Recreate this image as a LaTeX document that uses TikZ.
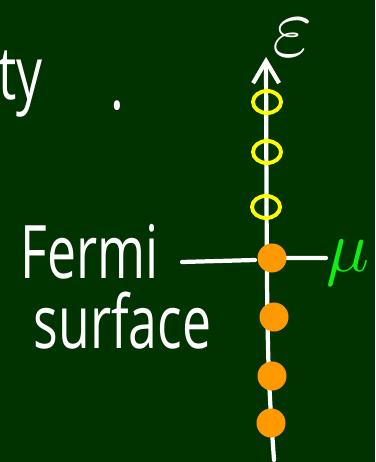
\documentclass[tikz,border=0pt]{standalone}
\usepackage{fontspec}
\newfontfamily\chalkfont[FakeStretch=0.7]{Open Sans}
\usetikzlibrary{arrows.meta,shapes.geometric}
\definecolor{board}{HTML}{003300}
\definecolor{chalkyellow}{HTML}{FFFF00}
\definecolor{chalkorange}{HTML}{FF9900}
\definecolor{chalkgreen}{HTML}{11EE11}

\begin{document}
\begin{tikzpicture}[
    x=0.01cm, y=-0.01cm,
    chalk/.style={white, line width=1.2pt, line cap=round},
    empty/.style={ellipse, draw=chalkyellow, line width=1.1pt, minimum width=0.28cm,
                  minimum height=0.22cm, inner sep=0pt},
    filled/.style={circle, fill=chalkorange, minimum size=0.29cm, inner sep=0pt},
    txt/.style={text=white, font=\chalkfont\fontsize{21}{21}\selectfont, inner sep=0pt},
    sym/.style={inner sep=0pt, font=\fontsize{22}{22}\selectfont}
]
\fill[board] (0,0) rectangle (375,462);
\useasboundingbox (0,0) rectangle (375,462);

% --- energy axis ---
\coordinate (bot) at (274,460);
\coordinate (top) at (266,57);
\draw[chalk, -{Straight Barb[length=0.22cm, width=0.26cm]}] (bot) .. controls (267,360) .. (top);
\node[sym, text=white, font=\fontsize{25}{25}\selectfont] (eps) at (293,38) {$\varepsilon$};

% --- chemical potential ---
\coordinate (lnL) at (182,262);
\node[sym, text=chalkgreen, anchor=base west] (mu) at (326,272) {$\mu$};
\draw[chalk] (lnL) -- (255,260) (287,258) -- (mu.west |- 0,258);

% empty levels above mu
\node[empty] (e1) at (267,102) {};
\node[empty] (e2) at (267,152) {};
\node[empty] (e3) at (266,207) {};

% filled levels up to mu
\node[filled] (f0) at (272,258) {};
\node[filled] (f1) at (274,317) {};
\node[filled] (f2) at (272,376) {};
\node[filled] (f3) at (271,423) {};

% --- labels ---
\node[txt, anchor=base west] (ty) at (-2,100) {ty};
\node[txt, anchor=base west] (dot) at (110,110) {.};
\node[txt, anchor=base west] (fermi) at (20,279) {Fermi};
\node[txt, anchor=base west] (surf) at (33,349) {surface};

\end{tikzpicture}
\end{document}
